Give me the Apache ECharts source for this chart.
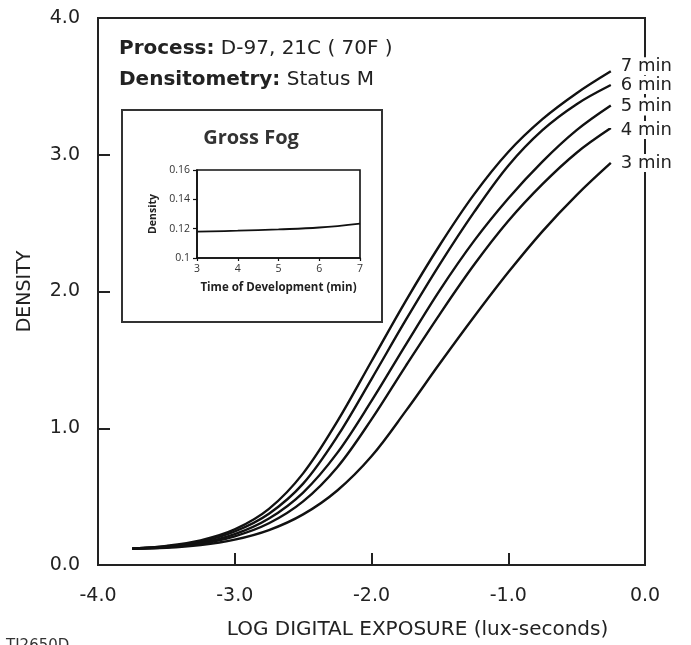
<!DOCTYPE html>
<html>
<head>
<meta charset="utf-8">
<script src="https://cdn.jsdelivr.net/npm/echarts@6/dist/echarts.min.js"></script>
<style>
html,body{margin:0;padding:0;background:#fff;}
#c{width:691px;height:645px;}
</style>
</head>
<body>
<div id="c"></div>
<script>
// ---- Data ----
var logE = [-3.75, -3.5, -3.25, -3.0, -2.75, -2.5, -2.25, -2.0, -1.75, -1.5, -1.25, -1.0, -0.75, -0.5, -0.25];
var curveNames = ['7 min', '6 min', '5 min', '4 min', '3 min'];
var d7 = [0.12, 0.14, 0.18, 0.26, 0.41, 0.67, 1.05, 1.49, 1.93, 2.34, 2.71, 3.02, 3.26, 3.45, 3.61];
var d6 = [0.12, 0.135, 0.17, 0.245, 0.375, 0.595, 0.94, 1.36, 1.79, 2.20, 2.58, 2.92, 3.18, 3.37, 3.51];
var d5 = [0.12, 0.13, 0.16, 0.225, 0.34, 0.53, 0.82, 1.20, 1.61, 2.01, 2.37, 2.68, 2.95, 3.18, 3.36];
var d4 = [0.12, 0.13, 0.155, 0.21, 0.305, 0.465, 0.715, 1.065, 1.455, 1.835, 2.195, 2.515, 2.785, 3.015, 3.195];
var d3 = [0.12, 0.125, 0.145, 0.185, 0.255, 0.37, 0.545, 0.795, 1.125, 1.475, 1.815, 2.14, 2.44, 2.705, 2.94];
var xTicks = ['-4.0', '-3.0', '-2.0', '-1.0', '0.0'];
var yTicks = ['0.0', '1.0', '2.0', '3.0', '4.0'];

var fogTime = [3, 4, 5, 6, 7];
var fogDensity = [0.118, 0.1186, 0.1195, 0.1208, 0.1235];

// ---- Styles (not data) ----
var labelOffsets = [[0, -5], [0, 0], [0, 1], [0, 2], [0, 0]];
var curveData = [d7, d6, d5, d4, d3];

var chart = echarts.init(document.getElementById('c'), null, {renderer: 'canvas'});
var MAINFONT = '"DejaVu Sans", "Liberation Sans", Arial, sans-serif';
var INSETFONT = '"Open Sans", Lato, sans-serif';

var series = curveNames.map(function (name, i) {
  return {
    name: name,
    type: 'line',
    xAxisIndex: 0, yAxisIndex: 0,
    data: logE.map(function (x, j) { return [x, curveData[i][j]]; }),
    smooth: 0.35,
    showSymbol: false,
    lineStyle: {color: '#111', width: 2.4},
    endLabel: {
      show: true,
      formatter: name,
      distance: 8,
      offset: labelOffsets[i],
      color: '#222',
      fontFamily: MAINFONT,
      fontSize: 18,
      backgroundColor: '#fff',
      padding: [0, 2, 0, 2]
    },
    z: 3
  };
});
series.push({
  name: 'Gross Fog',
  type: 'line',
  xAxisIndex: 1, yAxisIndex: 1,
  data: fogTime.map(function (t, j) { return [t, fogDensity[j]]; }),
  smooth: 0.4,
  showSymbol: false,
  lineStyle: {color: '#111', width: 1.8}
});

var option = {
  backgroundColor: '#fff',
  animation: false,
  title: [
    {
      left: 114, top: 28,
      text: '{b|Process:} D-97, 21C ( 70F )\n{b|Densitometry:} Status M',
      textStyle: {
        fontFamily: MAINFONT, fontSize: 20, fontWeight: 'normal', color: '#222', lineHeight: 31,
        rich: {b: {fontWeight: 'bold', fontSize: 20, fontFamily: MAINFONT, color: '#222', lineHeight: 31}}
      }
    }
  ],
  graphic: [
    {
      type: 'rect',
      shape: {x: 122, y: 110, width: 260, height: 212},
      style: {fill: 'none', stroke: '#333', lineWidth: 2},
      z: 5
    },
    {
      type: 'text',
      x: 251, y: 138,
      style: {text: 'Gross Fog', font: 'bold 20px ' + INSETFONT, fill: '#333', textAlign: 'center', textVerticalAlign: 'middle'},
      z: 5
    },
    {
      type: 'text',
      left: 6, top: 639,
      style: {text: 'TI2650D', font: '15px ' + MAINFONT, fill: '#333'}
    }
  ],
  grid: [
    {left: 98, right: 46, top: 18, bottom: 77, show: true, borderColor: '#222', borderWidth: 2, backgroundColor: 'transparent'},
    {left: 197, right: 331, top: 170, bottom: 387, show: true, borderColor: '#111', borderWidth: 1.6, backgroundColor: 'transparent'}
  ],
  xAxis: [
    {
      gridIndex: 0, type: 'value', min: -4, max: 0, interval: 1,
      name: 'LOG DIGITAL EXPOSURE (lux-seconds)', nameLocation: 'middle', nameGap: 55,
      nameTextStyle: {fontFamily: MAINFONT, fontSize: 20, color: '#222', padding: [0, 0, 0, 92]},
      axisLine: {show: true, onZero: false, lineStyle: {color: '#222', width: 2}},
      axisTick: {show: true, inside: true, length: 12, lineStyle: {color: '#222', width: 2}},
      axisLabel: {margin: 22, fontFamily: MAINFONT, fontSize: 19, color: '#222',
        formatter: function (v) { return xTicks[Math.round(v + 4)]; }},
      splitLine: {show: false}
    },
    {
      gridIndex: 1, type: 'value', min: 3, max: 7, interval: 1,
      name: 'Time of Development (min)', nameLocation: 'middle', nameGap: 24,
      nameTextStyle: {fontFamily: INSETFONT, fontSize: 11.5, fontWeight: 'bold', color: '#222'},
      axisLine: {show: true, onZero: false, lineStyle: {color: '#111', width: 1.6}},
      axisTick: {show: true, length: 3, lineStyle: {color: '#111', width: 1.2}},
      axisLabel: {margin: 6, fontFamily: INSETFONT, fontSize: 10.5, color: '#333'},
      splitLine: {show: false}
    }
  ],
  yAxis: [
    {
      gridIndex: 0, type: 'value', min: 0, max: 4, interval: 1,
      name: 'DENSITY', nameLocation: 'middle', nameGap: 63, nameRotate: 90,
      nameTextStyle: {fontFamily: MAINFONT, fontSize: 19, color: '#222'},
      axisLine: {show: true, onZero: false, lineStyle: {color: '#222', width: 2}},
      axisTick: {show: true, inside: true, length: 12, lineStyle: {color: '#222', width: 2}},
      axisLabel: {margin: 18, fontFamily: MAINFONT, fontSize: 19, color: '#222',
        formatter: function (v) { return yTicks[Math.round(v)]; }},
      splitLine: {show: false}
    },
    {
      gridIndex: 1, type: 'value', min: 0.1, max: 0.16, interval: 0.02,
      name: 'Density', nameLocation: 'middle', nameGap: 38, nameRotate: 90,
      nameTextStyle: {fontFamily: INSETFONT, fontSize: 10.5, fontWeight: 'bold', color: '#222'},
      axisLine: {show: true, onZero: false, lineStyle: {color: '#111', width: 1.6}},
      axisTick: {show: true, length: 4, lineStyle: {color: '#111', width: 1.2}},
      axisLabel: {margin: 7, fontFamily: INSETFONT, fontSize: 10.5, color: '#333',
        formatter: function (v) { return String(Math.round(v * 100) / 100); }},
      splitLine: {show: false}
    }
  ],
  series: series
};
chart.setOption(option);
</script>
</body>
</html>
